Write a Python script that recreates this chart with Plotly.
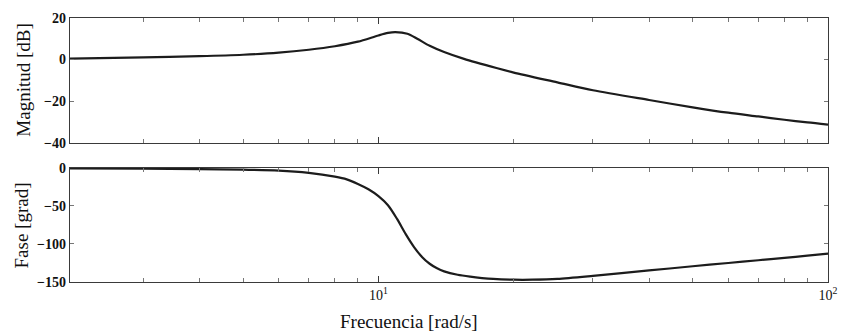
import plotly.graph_objects as go

# Magnitude data (rad/s, dB)
freq_mag = [2.06, 3.0, 4.0, 5.0, 6.0, 7.0, 8.0, 9.0, 10.0, 10.5, 10.9, 11.6, 12.2, 13.0, 14.0, 15.5, 18.3, 20.0, 25.0, 30.0, 40.0, 50.0, 60.0, 70.0, 80.0, 90.0, 100.0]
mag_db = [0.4, 1.0, 1.6, 2.3, 3.3, 4.7, 6.4, 8.6, 11.6, 12.8, 13.2, 12.4, 10.0, 6.6, 3.6, 0.3, -4.1, -6.3, -11.0, -14.8, -19.5, -23.0, -25.6, -27.4, -29.0, -30.3, -31.3]

# Phase data (rad/s, degrees)
freq_phase = [2.06, 3.0, 4.0, 5.0, 6.0, 7.0, 8.0, 8.5, 9.0, 9.5, 10.0, 10.5, 11.0, 11.5, 12.0, 12.5, 13.0, 13.5, 14.0, 15.0, 16.0, 17.0, 18.0, 20.0, 22.0, 25.0, 30.0, 40.0, 50.0, 60.0, 70.0, 80.0, 90.0, 100.0]
phase_deg = [-0.5, -1.0, -1.5, -2.3, -3.5, -6.5, -11.5, -15.0, -21.0, -28.0, -37.0, -49.0, -67.0, -87.0, -104.0, -117.0, -126.0, -132.0, -136.0, -140.5, -143.0, -144.8, -146.0, -147.0, -147.0, -146.0, -142.0, -134.8, -129.3, -125.0, -121.4, -118.2, -115.4, -112.8]

major_x = [10, 100]
major_x_text = ["10<sup>1</sup>", "10<sup>2</sup>"]
minor_x = [3, 4, 5, 6, 7, 8, 9, 20, 30, 40, 50, 60, 70, 80, 90]
mag_ticks = [20, 0, -20, -40]
phase_ticks = [0, -50, -100, -150]

FONT = "Liberation Serif"
AX = "#3a3a3a"
CURVE = "#1c1c1c"

fig = go.Figure()
fig.add_trace(go.Scatter(x=freq_mag, y=mag_db, mode="lines",
                         line=dict(color=CURVE, width=2.2, shape="spline", smoothing=0.8),
                         xaxis="x", yaxis="y", showlegend=False))
fig.add_trace(go.Scatter(x=freq_phase, y=phase_deg, mode="lines",
                         line=dict(color=CURVE, width=2.2, shape="spline", smoothing=0.8),
                         xaxis="x2", yaxis="y2", showlegend=False))

xr = [0.3139, 2.0]
common_x = dict(type="log", range=xr, showline=True, linecolor=AX, linewidth=1.2,
                mirror="allticks", ticks="inside", ticklen=6, tickcolor=AX,
                tickvals=major_x, showgrid=False, zeroline=False,
                minor=dict(tickvals=minor_x, ticks="inside", ticklen=4, tickcolor="#777", showgrid=False))
common_y = dict(showline=True, linecolor=AX, linewidth=1.2, mirror="allticks",
                ticks="inside", ticklen=4, tickcolor="#777", showgrid=False, zeroline=False,
                tickfont=dict(family=FONT, size=14, color="#111", weight="bold"))

fig.update_layout(
    width=849, height=334,
    margin=dict(l=70, r=15, t=11, b=52),
    paper_bgcolor="white", plot_bgcolor="white",
    xaxis=dict(common_x, domain=[0, 1], anchor="y", showticklabels=False),
    xaxis2=dict(common_x, domain=[0, 1], anchor="y2", ticktext=major_x_text,
                tickfont=dict(family=FONT, size=14, color="#111")),
    yaxis=dict(common_y, domain=[0.528, 1.0], anchor="x", range=[-40, 20], tickvals=mag_ticks),
    yaxis2=dict(common_y, domain=[0.0, 0.432], anchor="x2", range=[-150, 0], tickvals=phase_ticks),
    annotations=[
        dict(text="Magnitud [dB]", xref="paper", yref="paper", x=-0.0615, y=0.764,
             xanchor="center", yanchor="middle", textangle=-90, showarrow=False,
             font=dict(family=FONT, size=19, color="#111")),
        dict(text="Fase [grad]", xref="paper", yref="paper", x=-0.064, y=0.216,
             xanchor="center", yanchor="middle", textangle=-90, showarrow=False,
             font=dict(family=FONT, size=19, color="#111")),
        dict(text="Frecuencia [rad/s]", xref="paper", yref="paper", x=0.4476, y=-0.151,
             xanchor="center", yanchor="middle", showarrow=False,
             font=dict(family=FONT, size=19, color="#111")),
    ],
)

fig.write_html("out.html")
